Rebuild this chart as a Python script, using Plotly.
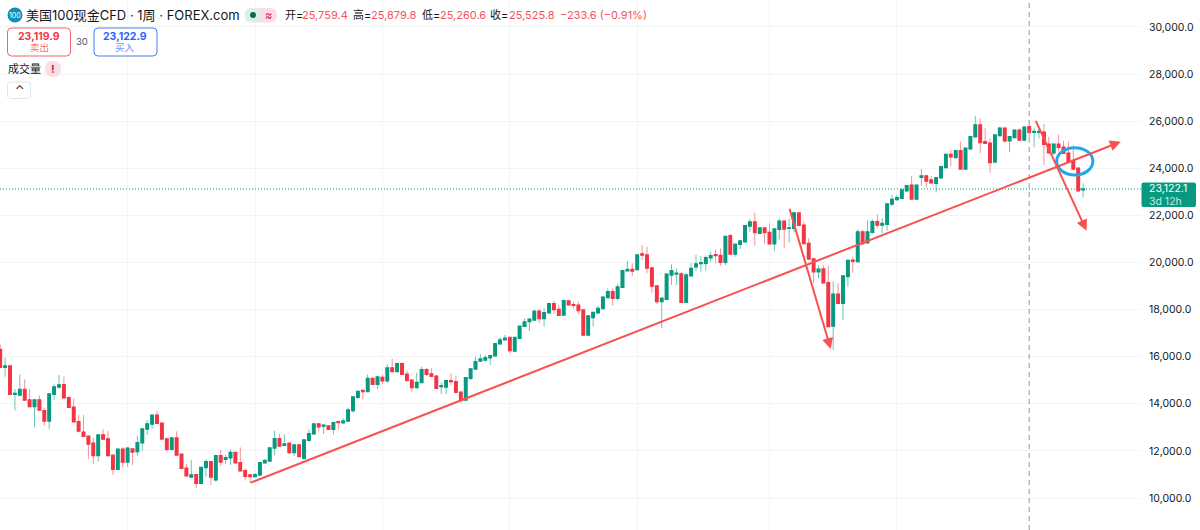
import plotly.graph_objects as go

# weekly candles
opens = [16310, 15550, 15600, 14400, 14370, 14610, 14160, 13880, 14160, 13700, 13270, 14400, 14710, 14810, 14260, 13850,
         13240, 12790, 12620, 12320, 11800, 12680, 12510, 11810, 11220, 12070, 11530, 12080, 11970, 12350, 12930, 13140,
         13510, 13170, 12510, 12070, 12550, 11860, 11260, 10890, 10990, 10630, 11300, 11540, 10770, 11790, 11640, 11710,
         11930, 11500, 11160, 10980, 10910, 10980, 11500, 11570, 12120, 12520, 12240, 12320, 11930, 12250,
         11690, 12450, 12730, 13140, 13060, 13060, 12920, 13240, 13200, 13270, 13710, 14280, 14560, 14520, 15070, 14830,
         15120, 14980, 15520, 15370, 15700, 15250, 15000, 14690, 14900, 15450, 15270, 15170, 14730, 14710, 14980, 14940,
         14490, 14160, 15080, 15480, 15820, 15860, 15960, 16040,
         16550, 16720, 16810, 16240, 16780, 17290, 17490, 17560, 17930, 17620, 17870, 18250, 18000, 17770, 18370, 18210,
         18180, 17980, 16920, 17660, 17870, 18050, 18510, 18760, 18480, 18950, 19650, 19700, 19700, 20360, 20320, 19770,
         19000, 18340, 18440, 19470, 19510,
         19510, 18310, 19440, 19820, 19960, 19970, 20200, 20330, 20300, 20010, 21140, 20360, 20770, 20880, 21550, 21720,
         21240, 21460, 21270, 20800, 21410, 21750, 21450, 21450, 22100, 21580, 20810, 20150, 19610, 19720, 19140, 17300,
         18650, 18270, 19410, 20100, 20040, 21300, 20840, 21280, 21730, 21590,
         21620, 22480, 22680, 22730, 23050, 23280, 22700, 23620, 23670, 23500, 23360, 23600, 24030, 24590, 24460, 24750,
         23970, 24830, 25340, 25840, 25130, 25060, 24270, 25390, 25700, 25170, 25310, 25620, 25200, 25759.4, 25530, 25530,
         25530, 25020, 24660, 25020, 24890, 24640, 24320, 24000, 23090]
highs = [16510, 15970, 15650, 14630, 15250, 15040, 14630, 14160, 14350, 13840, 14420, 14830, 15220, 15150, 14330, 14230,
         13530, 13530, 12650, 12560, 12680, 12920, 12850, 11810, 12070, 12150, 12150, 12080, 12630, 12930, 13310, 13510,
         13700, 13170, 12560, 12550, 12830, 11860, 11450, 11620, 10990, 11300, 11640, 11540, 11790, 12040, 11830, 12070,
         11970, 12150, 11260, 11010, 11050, 11500, 11640, 12150, 12860, 12720, 12690, 12320, 12250, 12290,
         12460, 12920, 13140, 13170, 13090, 13100, 13230, 13240, 13380, 13840, 14290, 14560, 14610, 15250, 15110, 15180,
         15220, 15690, 15920, 15750, 15760, 15410, 15040, 15320, 15580, 15510, 15510, 15220, 14900, 14980, 15290, 15200,
         14490, 15110, 15480, 16000, 16100, 16070, 16040, 16550,
         16820, 16920, 16810, 16810, 17290, 17620, 17630, 17960, 18010, 18050, 18270, 18370, 18200, 18440, 18370, 18340,
         18340, 17980, 17730, 17880, 18170, 18580, 18900, 18900, 19090, 19650, 20050, 19970, 20360, 20730, 20670, 19770,
         19000, 18480, 19540, 19920, 19750,
         19610, 19540, 19970, 20320, 20280, 20290, 20460, 20530, 20600, 21100, 21210, 20770, 20960, 21560, 21830, 22120,
         21460, 21460, 21660, 21420, 21860, 21800, 21860, 22100, 22100, 21730, 21030, 20150, 19890, 19890, 19850, 19190,
         19120, 19430, 20130, 20250, 21410, 21380, 21780, 21830, 22060, 21880,
         22510, 22870, 22870, 23150, 23290, 23670, 23280, 23960, 23720, 23670, 23600, 24110, 24640, 24780, 24780, 25130,
         24850, 25370, 26230, 26120, 25700, 25270, 25410, 25770, 25700, 25340, 25620, 25700, 25770, 25879.8, 25700, 25670,
         25880, 25340, 25020, 25440, 25170, 25130, 24960, 24000, 23360]
lows = [15510, 15150, 14370, 13710, 14330, 14130, 13850, 13000, 13700, 13070, 12920, 14160, 14660, 14230, 13820, 13240,
        12780, 12580, 11660, 11450, 11540, 12460, 11800, 10980, 11220, 11300, 11330, 11400, 11800, 12010, 12680, 12920,
        13140, 12510, 11970, 12040, 11830, 11230, 10940, 10880, 10410, 10630, 10910, 10550, 10700, 11360, 11450, 11400,
        11470, 11120, 10740, 10630, 10880, 10980, 11470, 11540, 11800, 12180, 12210, 11870, 11790, 11730,
        11640, 12390, 12680, 12820, 12720, 12890, 12700, 12890, 13170, 13270, 13620, 14190, 14190, 14520, 14800, 14630,
        14840, 14900, 15340, 15340, 15220, 14940, 14520, 14630, 14900, 15180, 15150, 14630, 14420, 14400, 14800, 14460,
        14020, 14130, 15010, 15440, 15790, 15790, 15650, 16000,
        16510, 16710, 16140, 16210, 16750, 17280, 17090, 17530, 17420, 17280, 17840, 17810, 17730, 17770, 18180, 18050,
        17810, 16920, 16920, 17280, 17840, 18020, 18480, 18170, 18380, 18950, 19650, 19430, 19680, 20110, 19540, 18720,
        18240, 17200, 18410, 19050, 19050,
        18310, 18310, 19400, 19650, 19610, 19650, 20030, 19970, 19860, 19890, 20340, 20250, 20570, 20880, 21310, 20710,
        21210, 20790, 20770, 20500, 20980, 20600, 20840, 21280, 21550, 20810, 20130, 19120, 19330, 19120, 17250, 16290,
        18240, 17560, 18970, 19570, 20040, 20740, 20840, 21240, 21450, 21240,
        21350, 22400, 22610, 22680, 23010, 22680, 22700, 23250, 23190, 23330, 22970, 23570, 24000, 24100, 24420, 23970,
        23970, 24780, 25310, 24640, 25060, 23810, 24270, 25340, 25100, 24680, 25310, 25170, 25170, 25260.6, 24890, 25270,
        24140, 24640, 24560, 24710, 24640, 24210, 23960, 23050, 22770]
closes = [15550, 15600, 14400, 14440, 14610, 14160, 13880, 14160, 13740, 13270, 14420, 14710, 14800, 14260, 13850, 13240,
          12850, 12620, 12290, 11800, 12680, 12510, 11800, 11220, 12070, 11530, 12110, 11950, 12350, 12930, 13140, 13510,
          13170, 12510, 12070, 12550, 11830, 11260, 10940, 10980, 10630, 11300, 11540, 10890, 11790, 11530, 11710, 11930,
          11500, 11160, 10920, 10910, 10990, 11500, 11590, 12120, 12520, 12210, 12290, 11930, 12250, 11760,
          12460, 12730, 13140, 13020, 13090, 12920, 13200, 13210, 13270, 13740, 14290, 14520, 14520, 15070, 14830, 15140,
          14980, 15520, 15370, 15700, 15250, 15000, 14690, 14900, 15450, 15250, 15170, 14660, 14770, 14980, 14950, 14490,
          14160, 15110, 15480, 15790, 15900, 15960, 16040, 16550,
          16710, 16780, 16260, 16810, 17290, 17470, 17590, 17930, 17620, 17870, 18250, 18000, 17760, 18380, 18210, 18180,
          17960, 16920, 17730, 17880, 18050, 18520, 18760, 18480, 18960, 19650, 19700, 19640, 20320, 20320, 19770, 19000,
          18340, 18480, 19500, 19650, 19540,
          18310, 19470, 19750, 19940, 19990, 20200, 20290, 20300, 20010, 21100, 20360, 20770, 20910, 21560, 21720, 21270,
          21460, 21270, 20800, 21420, 21750, 21420, 21460, 22100, 21580, 20810, 20150, 19610, 19710, 19140, 17280, 18650,
          18270, 19430, 20080, 20050, 21300, 20810, 21300, 21730, 21590, 21660,
          22480, 22680, 22750, 23080, 23260, 22700, 23280, 23670, 23460, 23390, 23600, 24070, 24590, 24490, 24750, 23970,
          24850, 25340, 25840, 25100, 25060, 24250, 25410, 25700, 25170, 25340, 25620, 25200, 25740, 25525.8, 25560, 25560,
          25020, 24660, 25020, 24890, 24640, 24280, 23970, 23050, 23122]
weeks = list(range(len(opens)))

y_ticks = [10000, 12000, 14000, 16000, 18000, 20000, 22000, 24000, 26000, 28000, 30000]
x_grid = [26, 52, 78, 104, 130, 157, 183]
last_price = 23122.1
hover_week = 210

# hand drawn lines on the chart: (week, price) start and tip
trend_line = [(50.8, 10625), (228.7, 25128)]
drop_arrow_1 = [(161.0, 22340), (169.5, 16327)]
drop_arrow_2 = [(211.2, 26080), (221.7, 21350)]
ring_weeks = [215.6, 223.0]
ring_prices = [23716, 24876]

W, H = 1200, 530
RIGHT = 59
GREEN, RED = '#089981', '#f23645'
WICK_GREEN, WICK_RED = '#6fc5b5', '#f8929b'
TXT = '#131722'
PEN = '#f6525f'
FONT = 'Inter, "Noto Sans CJK SC", sans-serif'


def px(x):
    return x / (W - RIGHT)


def py(y):
    return 1 - y / H


def round_rect(x0, y0, x1, y1, r):
    a, b, c, d = px(x0), px(x1), py(y0), py(y1)
    rx, ry = r / (W - RIGHT), r / H
    return (f'M {a + rx} {c} L {b - rx} {c} Q {b} {c} {b} {c - ry} L {b} {d + ry} Q {b} {d} {b - rx} {d} '
            f'L {a + rx} {d} Q {a} {d} {a} {d + ry} L {a} {c - ry} Q {a} {c} {a + rx} {c} Z')


def box(x0, y0, x1, y1, r, fill='white', line=None, width=1):
    return dict(type='path', xref='paper', yref='paper', path=round_rect(x0, y0, x1, y1, r),
                fillcolor=fill, line=dict(color=line or 'rgba(0,0,0,0)', width=width if line else 0))


def label(x, y, text, color=TXT, size=11.5, anchor='left'):
    return dict(xref='paper', yref='paper', x=px(x), y=py(y), text=text, showarrow=False, xanchor=anchor,
                yanchor='middle', align=anchor, font=dict(color=color, size=size, family=FONT), borderpad=0,
                borderwidth=0)


def arrow(points, width=2):
    (x0, y0), (x1, y1) = points
    return dict(x=x1, y=y1, ax=x0, ay=y0, xref='x', yref='y', axref='x', ayref='y', text='', showarrow=True,
                arrowhead=2, arrowsize=1.1, arrowwidth=width, arrowcolor='#f95050')


fig = go.Figure()
# wicks first, lighter, then solid bodies on top
fig.add_trace(go.Candlestick(x=weeks, open=opens, high=highs, low=lows, close=closes,
                             increasing=dict(line=dict(color=WICK_GREEN, width=1), fillcolor=WICK_GREEN),
                             decreasing=dict(line=dict(color=WICK_RED, width=1), fillcolor=WICK_RED),
                             whiskerwidth=0, hoverinfo='skip', showlegend=False))
fig.add_trace(go.Candlestick(x=weeks, open=opens, close=closes,
                             high=[max(o, c) for o, c in zip(opens, closes)],
                             low=[min(o, c) for o, c in zip(opens, closes)],
                             increasing=dict(line=dict(color=GREEN, width=1.5), fillcolor=GREEN),
                             decreasing=dict(line=dict(color=RED, width=1.5), fillcolor=RED),
                             whiskerwidth=0, hoverinfo='skip', showlegend=False))

shapes = [
    dict(type='line', xref='x', yref='paper', x0=hover_week, x1=hover_week, y0=0, y1=1,
         line=dict(color='#9598a1', width=1, dash='5px,4px')),
    dict(type='line', xref='paper', yref='y', x0=0, x1=1, y0=last_price, y1=last_price,
         line=dict(color=GREEN, width=1, dash='1px,2px')),
    dict(type='circle', xref='x', yref='y', x0=ring_weeks[0], x1=ring_weeks[1], y0=ring_prices[0], y1=ring_prices[1],
         line=dict(color='#22a7e8', width=3)),
    # header badges
    dict(type='circle', xref='paper', yref='paper', x0=px(7.5), x1=px(22.5), y0=py(22.5), y1=py(7.5),
         fillcolor='#128fb5', line=dict(width=0)),
    box(245, 8, 277, 22.5, 7, fill='#fbdde3'),
    box(245, 8, 261, 22.5, 7, fill='#dcefea'),
    dict(type='circle', xref='paper', yref='paper', x0=px(250), x1=px(256), y0=py(18), y1=py(12),
         fillcolor='#0a6b5b', line=dict(width=0)),
    box(7.5, 28, 70.5, 56, 4, line='#f7606c'),
    box(94, 28, 157, 56, 4, line='#4a7df5'),
    box(45, 61, 61, 77, 8, fill='#fbdde3'),
    box(7.5, 82, 30.5, 98.5, 3, line='#e0e3eb'),
    # last price tag
    box(1141.5, 182.5, 1196, 207, 2, fill=GREEN),
]

annotations = [arrow(trend_line), arrow(drop_arrow_1), arrow(drop_arrow_2),
               label(15, 15.5, '100', color='white', size=7, anchor='center'),
               label(26, 15, '美国100现金CFD · 1周 · FOREX.com', size=13),
               label(265, 15, '≈', color='#c2185b', size=11),
               label(284.5, 15, '开=', size=11), label(302, 15, '25,759.4', color=PEN, size=11),
               label(352.5, 15, '高=', size=11), label(371, 15, '25,879.8', color=PEN, size=11),
               label(422, 15, '低=', size=11), label(440, 15, '25,260.6', color=PEN, size=11),
               label(490, 15, '收=', size=11), label(509, 15, '25,525.8', color=PEN, size=11),
               label(560, 15, '−233.6 (−0.91%)', color=PEN, size=11),
               label(39, 36.5, '<b>23,119.9</b>', color='#f23645', size=10.5, anchor='center'),
               label(39, 48, '卖出', color='#f7707c', size=9.5, anchor='center'),
               label(82, 42, '30', size=9.5, anchor='center', color='#50535e'),
               label(125.5, 36.5, '<b>23,122.9</b>', color='#2962ff', size=10.5, anchor='center'),
               label(125.5, 48, '买入', color='#6f92f7', size=9.5, anchor='center'),
               label(7.5, 69, '成交量', size=11),
               label(53, 69, '<b>!</b>', color='#d81b3c', size=11, anchor='center'),
               label(19, 89.5, '⌃', size=12, anchor='center'),
               label(1149, 188.5, '23,122.1', color='white', size=10.5),
               label(1149, 201, '3d 12h', color='#c4e8e1', size=10.5)]

fig.update_layout(width=W, height=H, margin=dict(l=0, r=RIGHT, t=0, b=0), paper_bgcolor='white', plot_bgcolor='white',
                  showlegend=False, shapes=shapes, annotations=annotations, hovermode=False,
                  font=dict(family=FONT, color=TXT))
fig.update_xaxes(range=[-0.04, (W - RIGHT - 0.2) / 4.9], rangeslider_visible=False, tickmode='array', tickvals=x_grid,
                 showticklabels=False, showgrid=True, gridcolor='#f5f5f6', gridwidth=1, zeroline=False, ticks='',
                 showline=False)
fig.update_yaxes(range=[8641, 31146], side='right', tickmode='array', tickvals=y_ticks, tickformat=',.1f',
                 showgrid=True, gridcolor='#f3f4f5', gridwidth=1, zeroline=False, ticks='', showline=False,
                 tickfont=dict(size=10.5, color=TXT, family=FONT), ticklabelstandoff=7)

fig.write_html("out.html", post_script="document.body.style.margin='0';", config=dict(displayModeBar=False))
